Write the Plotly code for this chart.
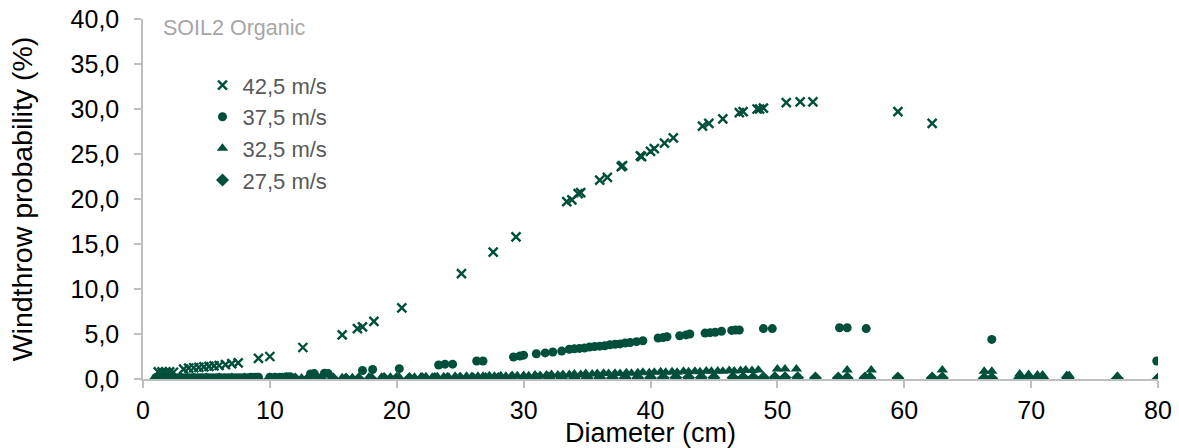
import plotly.graph_objects as go

GREEN = "#004F3B"

# 42,5 m/s
d42 = [1.2, 1.5, 1.8, 2.1, 2.4, 3.2, 3.6, 4.0, 4.4, 4.8, 5.2, 5.6, 6.0, 6.5, 7.0, 7.5,
       9.1, 10.0, 12.6, 15.7, 16.9, 17.3, 18.2, 20.4, 25.1, 27.6, 29.4, 33.4, 33.8, 34.3,
       34.5, 36.0, 36.6, 37.7, 37.8, 39.2, 39.3, 40.0, 40.3, 41.1, 41.8, 44.1, 44.6, 45.7,
       47.0, 47.3, 48.4, 48.6, 48.9, 50.7, 51.8, 52.8, 59.5, 62.2]
v42 = [0.8, 0.8, 0.8, 0.8, 0.75, 1.1, 1.2, 1.25, 1.3, 1.35, 1.4, 1.45, 1.5, 1.6, 1.7, 1.8,
       2.3, 2.5, 3.5, 4.9, 5.6, 5.8, 6.4, 7.9, 11.7, 14.1, 15.8, 19.7, 19.9, 20.6,
       20.7, 22.1, 22.4, 23.6, 23.7, 24.8, 24.7, 25.3, 25.6, 26.2, 26.8, 28.1, 28.4, 28.9,
       29.6, 29.7, 30.0, 30.0, 30.1, 30.7, 30.8, 30.8, 29.7, 28.4]

# 37,5 m/s
d37 = [1.0, 1.3, 1.6, 1.9, 2.2, 2.5, 2.8, 3.1, 3.4, 3.7, 4.0, 4.3, 4.6, 4.9, 5.2, 5.5,
       5.8, 6.1, 6.4, 6.7, 7.0, 7.3, 7.6, 7.9, 8.2, 8.5, 8.8, 9.1, 10.0, 10.4, 10.8, 11.3,
       11.6, 13.2, 13.5, 14.3, 14.6, 17.3, 18.1, 20.2, 23.3, 23.8, 24.4, 26.3, 26.8, 29.2,
       29.7, 30.0, 31.0, 31.7, 32.3, 33.0, 33.6, 34.0, 34.4, 34.8, 35.2, 35.6, 36.0, 36.4,
       36.8, 37.2, 37.6, 38.0, 38.4, 38.9, 39.4, 40.6, 41.0, 41.3, 42.3, 42.8, 43.1, 44.3,
       44.7, 45.1, 45.6, 46.4, 46.7, 47.0, 48.9, 49.6, 54.9, 55.5, 57.0, 66.9, 79.9]
v37 = [0.15, 0.15, 0.15, 0.15, 0.15, 0.15, 0.15, 0.15, 0.15, 0.15, 0.15, 0.15, 0.15, 0.15,
       0.15, 0.15, 0.15, 0.15, 0.15, 0.15, 0.15, 0.15, 0.15, 0.15, 0.15, 0.2, 0.2, 0.2,
       0.2, 0.2, 0.2, 0.25, 0.25, 0.55, 0.6, 0.65, 0.6, 0.95, 1.05, 1.15, 1.55, 1.65, 1.65,
       2.0, 2.0, 2.45, 2.55, 2.65, 2.8, 2.9, 3.0, 3.1, 3.3, 3.35, 3.4, 3.45, 3.55, 3.6,
       3.65, 3.7, 3.8, 3.85, 3.9, 4.0, 4.05, 4.15, 4.25, 4.55, 4.6, 4.7, 4.8, 4.9, 5.0,
       5.1, 5.15, 5.2, 5.3, 5.4, 5.45, 5.45, 5.6, 5.6, 5.7, 5.7, 5.6, 4.4, 2.0]

# 32,5 m/s
d32 = [1.5, 3.0, 4.5, 6.0, 7.5, 9.0, 10.5, 11.8, 12.5, 13.8, 15.0, 15.7, 16.5, 17.8,
       18.8, 19.5, 20.2, 21.4, 21.9, 22.3, 22.8, 23.2, 23.7, 24.1, 24.6, 25.0, 25.5, 25.9,
       26.4, 26.8, 27.3, 27.7, 28.2, 28.6, 29.1, 29.5, 30.0, 30.4, 30.9, 31.3, 31.8, 32.2,
       32.7, 33.1, 33.6, 34.0, 34.5, 34.9, 35.4, 35.8, 36.3, 36.7, 37.2, 37.6, 38.1, 38.5,
       39.0, 39.4, 39.9, 40.3, 40.8, 41.2, 41.7, 42.1, 42.6, 43.0, 43.5, 43.9, 44.4, 44.8,
       45.3, 45.7, 46.2, 46.6, 47.1, 47.5, 48.0, 48.5, 50.0, 50.6, 51.5, 55.5, 57.4, 63.0,
       66.3, 66.9, 69.1, 69.8, 70.5, 70.9, 72.8, 73.0, 76.8]
v32 = [0.05, 0.05, 0.05, 0.05, 0.05, 0.05, 0.1, 0.1, 0.1, 0.15, 0.15, 0.15, 0.15, 0.2,
       0.2, 0.2, 0.2, 0.2, 0.2, 0.25, 0.2, 0.25, 0.25, 0.2, 0.3, 0.25, 0.3, 0.25,
       0.3, 0.3, 0.35, 0.3, 0.35, 0.3, 0.4, 0.35, 0.4, 0.35, 0.45, 0.4, 0.45, 0.5,
       0.45, 0.5, 0.5, 0.55, 0.5, 0.6, 0.55, 0.6, 0.65, 0.6, 0.65, 0.6, 0.7, 0.65,
       0.7, 0.75, 0.7, 0.75, 0.8, 0.75, 0.8, 0.75, 0.85, 0.8, 0.85, 0.8, 0.9, 0.85,
       0.9, 0.85, 0.95, 0.9, 0.95, 1.0, 0.95, 1.0, 1.1, 1.1, 1.1, 1.0, 1.0, 1.0,
       0.85, 0.85, 0.55, 0.5, 0.45, 0.45, 0.4, 0.4, 0.3]

# 27,5 m/s
d27 = [1.0, 2.0, 3.0, 4.0, 5.0, 6.0, 7.0, 8.0, 9.0, 10.0, 11.0, 12.0, 13.0, 14.0, 15.0,
       16.0, 17.0, 18.0, 19.0, 20.0, 21.0, 22.0, 23.0, 24.0, 25.0, 26.0, 27.0, 28.0, 29.0,
       30.0, 31.0, 32.0, 33.0, 34.0, 35.0, 36.0, 37.0, 38.0, 39.0, 40.0, 41.0, 42.0, 43.0,
       44.0, 45.0, 46.5, 47.3, 48.1, 48.9, 49.8, 50.6, 51.6, 53.0, 54.8, 55.5, 56.9, 57.3,
       59.5, 62.2, 63.0, 66.3, 66.9, 69.1, 69.8, 70.5, 70.9, 72.9, 76.8, 80.0]
v27 = [0.0, 0.0, 0.0, 0.0, 0.0, 0.0, 0.0, 0.0, 0.0, 0.0, 0.0, 0.0, 0.0, 0.0, 0.0,
       0.0, 0.0, 0.0, 0.05, 0.05, 0.05, 0.05, 0.05, 0.05, 0.05, 0.05, 0.05, 0.05, 0.05,
       0.05, 0.05, 0.1, 0.1, 0.1, 0.1, 0.1, 0.1, 0.1, 0.1, 0.1, 0.1, 0.15, 0.15,
       0.15, 0.15, 0.15, 0.15, 0.15, 0.15, 0.15, 0.15, 0.15, 0.1, 0.1, 0.1, 0.1, 0.1,
       0.1, 0.1, 0.1, 0.05, 0.05, 0.05, 0.05, 0.05, 0.05, 0.05, 0.05, 0.0]

series = [
    ("27,5 m/s", d27, v27, dict(symbol="diamond", size=10, color=GREEN)),
    ("32,5 m/s", d32, v32, dict(symbol="triangle-up", size=10, color=GREEN)),
    ("37,5 m/s", d37, v37, dict(symbol="circle", size=9, color=GREEN)),
    ("42,5 m/s", d42, v42, dict(symbol="x-thin", size=9, color=GREEN,
                                line=dict(color=GREEN, width=2.4))),
]

fig = go.Figure()
for i, (name, xs, ys, mk) in enumerate(series):
    fig.add_trace(go.Scatter(x=xs, y=ys, mode="markers", name=name, marker=mk))

FONT = "Liberation Sans, Arial"
axis_common = dict(showgrid=False, zeroline=False, showline=True, linecolor="#BFBFBF",
                   linewidth=1.5, ticks="outside", tickcolor="#BFBFBF", ticklen=7,
                   tickwidth=1.5, automargin=False,
                   tickfont=dict(family=FONT, size=25, color="#000000"))

fig.update_layout(
    width=1179, height=448,
    margin=dict(l=143, r=21, t=19, b=69),
    paper_bgcolor="white", plot_bgcolor="white",
    separators=",.",
    showlegend=True,
    legend=dict(x=0.0586, y=0.874, xanchor="left", yanchor="top", traceorder="reversed",
                font=dict(family=FONT, size=22, color="#595959"),
                bgcolor="rgba(0,0,0,0)", itemsizing="trace"),
    xaxis=dict(range=[0, 80], tickvals=[0, 10, 20, 30, 40, 50, 60, 70, 80],
               ticklabelstandoff=1,
               title=dict(text="Diameter (cm)", standoff=0,
                          font=dict(family=FONT, size=27, color="#000000")),
               **axis_common),
    yaxis=dict(range=[0, 40], tickvals=[0, 5, 10, 15, 20, 25, 30, 35, 40], tickformat=".1f",
               ticklabelstandoff=10,
               title=dict(text="Windthrow probability (%)", standoff=30,
                          font=dict(family=FONT, size=28.5, color="#000000")),
               **axis_common),
    annotations=[dict(text="SOIL2 Organic", x=0.0177, y=0.975, xref="paper", yref="paper",
                      xanchor="left", yanchor="middle", showarrow=False,
                      font=dict(family=FONT, size=21.5, color="#A6A6A6"))],
)

fig.write_html("out.html", config={"displayModeBar": False},
               post_script="document.body.style.margin='0';")
